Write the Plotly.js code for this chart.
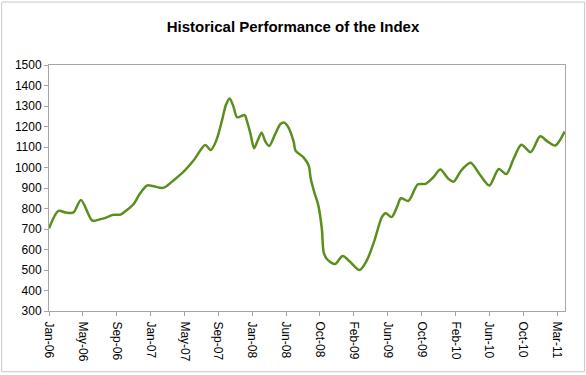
<!DOCTYPE html>
<html>
<head>
<meta charset="utf-8">
<script src="https://cdn.plot.ly/plotly-3.0.1.min.js"></script>
<style>html,body{margin:0;padding:0;background:#fff;}#chart{width:586px;height:375px;}</style>
</head>
<body>
<div id="chart"></div>
<script>
// Weekly index values (week number from the first observation, index level)
const weeks = [0, 5, 9, 13, 17, 23, 27, 30, 34, 38, 41, 45, 48, 52, 55, 60, 62, 66, 71, 77,
  83, 86, 89, 92, 94, 96, 98, 100, 104, 105, 107, 109, 111, 113, 115, 117, 120, 123, 125, 127,
  130, 131, 135, 138, 139, 141, 143, 145, 146, 148, 152, 156, 160, 165, 169, 173, 177, 179, 182, 185,
  187, 191, 196, 200, 204, 208, 212, 215, 219, 224, 229, 234, 239, 243, 247, 251, 256, 261, 265, 269, 274];
const values = [703, 788, 780, 781, 842, 741, 747, 754, 769, 770, 790, 822, 868, 912, 910, 900, 906, 936, 975, 1037,
  1110, 1085, 1134, 1232, 1305, 1337, 1297, 1245, 1256, 1232, 1167, 1094, 1134, 1170, 1126, 1105, 1159, 1212, 1219, 1199,
  1126, 1082, 1052, 1010, 950, 878, 820, 700, 585, 550, 529, 568, 540, 500, 549, 646, 760, 777, 758, 809,
  850, 837, 918, 920, 950, 990, 947, 931, 985, 1023, 965, 912, 993, 968, 1045, 1111, 1075, 1152, 1126, 1107, 1175];
const tickLabels = ['Jan-06','May-06','Sep-06','Jan-07','May-07','Sep-07','Jan-08','Jun-08',
  'Oct-08','Feb-09','Jun-09','Oct-09','Feb-10','Jun-10','Oct-10','Mar-11'];
const weeksPerLabel = 18;
const tickWeeks = tickLabels.map((_, i) => i * weeksPerLabel);

const font = 'Arial, "Liberation Sans", sans-serif';
const trace = {
  x: weeks, y: values, type: 'scatter', mode: 'lines',
  line: {color: '#5a8f1e', width: 2.5, shape: 'spline', smoothing: 0.8},
  hoverinfo: 'skip'
};
const axisCommon = {
  showline: true, linecolor: '#a6a6a6', linewidth: 1, mirror: true,
  showgrid: false, zeroline: false, ticks: 'outside', ticklen: 4,
  tickcolor: '#a6a6a6', tickfont: {family: font, size: 12, color: '#000'}
};
const layout = {
  width: 586, height: 375,
  margin: {l: 49, r: 21, t: 65, b: 64, pad: 0},
  paper_bgcolor: '#fff', plot_bgcolor: '#fff',
  showlegend: false,
  title: {text: '<b>Historical Performance of the Index</b>', font: {family: font, size: 15, color: '#000'},
    x: 0.5, xref: 'container', xanchor: 'center', y: 0.928, yref: 'container', yanchor: 'middle'},
  xaxis: Object.assign({}, axisCommon, {range: [0, 274.2], tickmode: 'array', tickvals: tickWeeks,
    ticktext: tickLabels, tickangle: 90, ticklabelstandoff: 3}),
  yaxis: Object.assign({}, axisCommon, {range: [300, 1500], dtick: 100, tick0: 300}),
  shapes: [{type: 'rect', xref: 'paper', yref: 'paper', x0: -0.0917, x1: 1.038, y0: -0.2467, y1: 1.256,
    line: {color: '#c8c8c8', width: 1}, layer: 'below'}]
};
Plotly.newPlot('chart', [trace], layout, {staticPlot: true, displayModeBar: false});
</script>
</body>
</html>
